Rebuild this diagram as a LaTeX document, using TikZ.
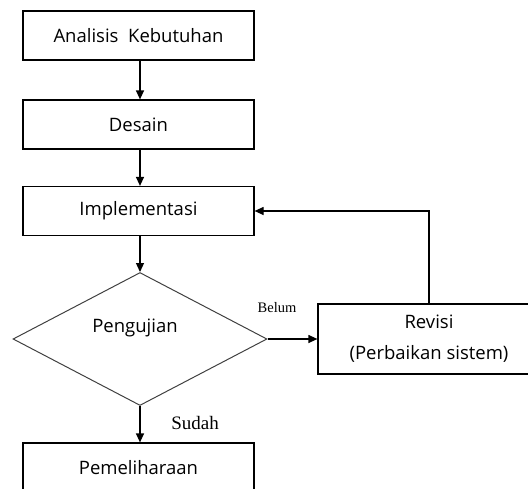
\documentclass[tikz,border=0pt]{standalone}
\usepackage{fontspec}
\setmainfont{Open Sans}
\newfontfamily\notefont{Liberation Serif}
\usetikzlibrary{shapes.geometric,arrows.meta}
\begin{document}
\begin{tikzpicture}[x=1pt,y=-1pt,
  stepbox/.style={draw,line width=1.2pt,minimum width=231pt,minimum height=49pt,
    inner sep=0pt,font=\fontsize{18.5}{21}\selectfont},
  decision/.style={draw=black!75,line width=1pt,diamond,minimum width=254pt,
    minimum height=133pt,inner sep=0pt},
  flow/.style={line width=1.2pt,-{Triangle[length=9pt,width=8pt]}},
  note/.style={font=\notefont\fontsize{14.5}{16}\selectfont}]
\useasboundingbox (0,0) rectangle (528,488);
\clip (0,0) rectangle (528,488);

% main sequence
\node[stepbox] (analisis) at (138.5,35.5) {Analisis\ \ Kebutuhan};
\node[stepbox] (desain) at (138.5,124.5) {Desain};
\node[stepbox] (impl) at (138.5,211) {Implementasi};
\node[decision] (uji) at (140,339) {};
\node[font=\fontsize{18.5}{21}\selectfont] (ujitext) at (135,328) {Pengujian};
\node[stepbox] (pelihara) at (138.5,467.5) {Pemeliharaan};

% revision branch
\node[stepbox,minimum width=222pt,minimum height=70pt,align=center,
  font=\fontsize{18.5}{31}\selectfont] (revisi) at (429,339)
  {Revisi\\(Perbaikan sistem)};

% connectors
\draw[flow] (analisis.south -| 140,0) -- (desain.north -| 140,0);
\draw[flow] (desain.south -| 140,0) -- (impl.north -| 140,0);
\draw[flow] (impl.south -| uji.north) -- (uji.north);
\draw[flow] (uji.south) -- (pelihara.north -| uji.south);
\draw[flow] (uji.east) -- (revisi.west);
\draw[flow] (revisi.north) |- (impl.east);

% branch labels
\node[note] (belum) at (277,308) {Belum};
\node[note,font=\notefont\fontsize{19}{21}\selectfont] (sudah) at (195,423) {Sudah};
\end{tikzpicture}
\end{document}
